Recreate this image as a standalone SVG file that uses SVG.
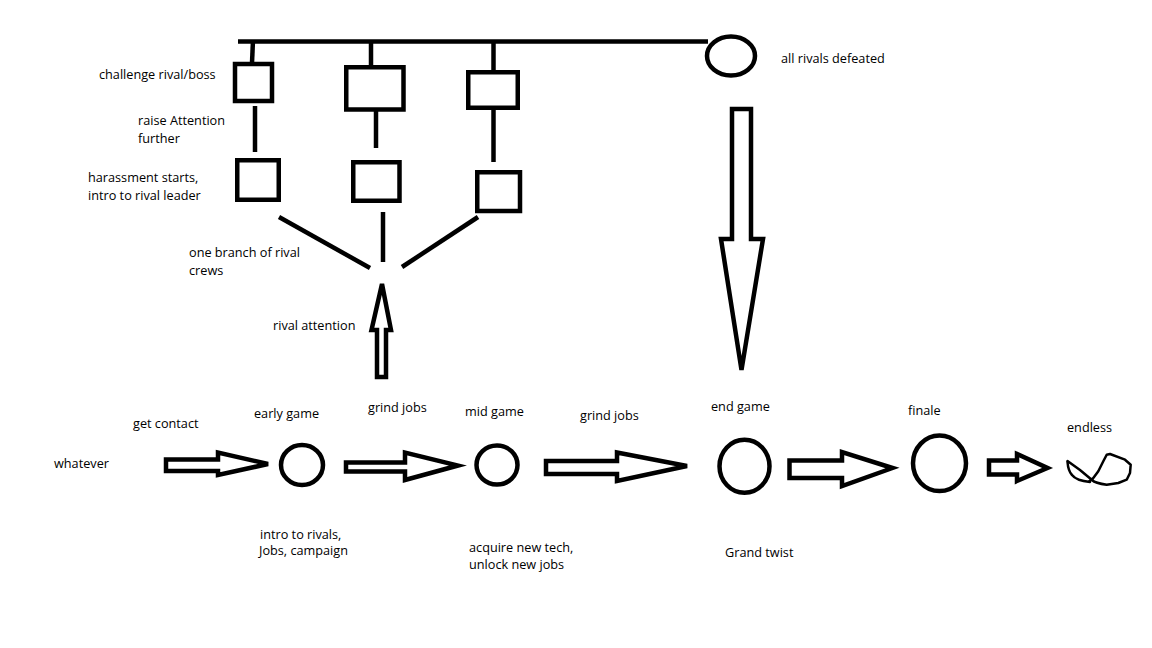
<svg xmlns="http://www.w3.org/2000/svg" width="1152" height="648" viewBox="0 0 1152 648">
<style>
.s{fill:#fff;stroke:#000;stroke-width:4.5;stroke-linejoin:miter}
.l{fill:none;stroke:#000;stroke-width:4.5}
.thin{fill:none;stroke:#000;stroke-width:2.5;stroke-linejoin:round;stroke-linecap:round}
text{font-family:"Open Sans","Noto Sans","Liberation Sans",sans-serif;font-size:12.7px;fill:#000}
</style>
<rect width="1152" height="648" fill="#fff"/>
<g id="connectors">
<line class="l" x1="238" y1="41.5" x2="708" y2="41.5"/>
<line class="l" x1="253" y1="40" x2="252" y2="63"/>
<line class="l" x1="255" y1="106" x2="255" y2="152"/>
<line class="l" x1="371" y1="41" x2="371" y2="66"/>
<line class="l" x1="376" y1="111" x2="376" y2="148"/>
<line class="l" x1="493.5" y1="41" x2="493.5" y2="71"/>
<line class="l" x1="493.5" y1="110" x2="493.5" y2="162"/>
<line class="l" x1="279" y1="217" x2="370" y2="268"/>
<line class="l" x1="383" y1="212" x2="383" y2="262"/>
<line class="l" x1="478" y1="217" x2="402" y2="267"/>
<polygon class="s" points="382,284 391,330 386,330 386,377 377,377 377,330 371.5,330"/>
<polygon class="s" points="732,109 751,109 751,239 763,239 741.5,370 721,239 732,239"/>
<polygon class="s" points="166,459.5 218,459.5 218,452.5 268,464 218,475 218,471 166,471"/>
<polygon class="s" points="346,462.5 405,462.5 405,452.5 458,465.5 405,480 405,471.5 346,471.5"/>
<polygon class="s" points="546,461 617,461 617,452.5 687,466 617,481 617,474 546,474"/>
<polygon class="s" points="789.5,460.5 842,460.5 842,452 892.5,468 842,486 842,478 789.5,478"/>
<polygon class="s" points="989,460.5 1017,460.5 1017,454 1047.5,468 1017,481 1017,474.5 989,474.5"/>
</g>
<g id="node-challenge-1"><rect class="s" x="235" y="64" width="37" height="37"/></g>
<g id="node-harass-1"><rect class="s" x="237.25" y="160.25" width="41.5" height="39.5"/></g>
<g id="node-challenge-2"><rect class="s" x="346.25" y="67.25" width="57.25" height="42.25"/></g>
<g id="node-harass-2"><rect class="s" x="353.25" y="162.25" width="46.25" height="38.5"/></g>
<g id="node-challenge-3"><rect class="s" x="468.25" y="72.25" width="49.5" height="35.5"/></g>
<g id="node-harass-3"><rect class="s" x="477.25" y="172.25" width="42.75" height="38.75"/></g>
<g id="node-defeated"><ellipse class="s" cx="731" cy="56" rx="24" ry="19.5"/></g>
<g id="node-early"><ellipse class="s" cx="302" cy="465" rx="21" ry="20"/></g>
<g id="node-mid"><ellipse class="s" cx="497" cy="465" rx="20.5" ry="19.5"/></g>
<g id="node-end"><ellipse class="s" cx="744.5" cy="466.3" rx="25" ry="26.5"/></g>
<g id="node-finale"><ellipse class="s" cx="939.5" cy="463.3" rx="26.5" ry="27.8"/></g>
<g id="node-endless">
<path class="thin" d="M1067.5,461 L1080,470 L1092,480"/>
<path class="thin" d="M1067.5,462 C1068,468 1070,473 1072,475 C1075,479 1080,481 1090,482"/>
<path class="thin" d="M1092,480 C1094,482 1097,483.5 1106.7,484.7 L1118.3,483 L1126.7,479.7 L1130,473 L1130.7,464.7 L1125,459.7 L1110,454 L1106.7,454.7 L1103.3,461.3 L1098.3,471.3 L1093.3,478 L1089.3,481.3"/>
</g>
<g id="labels">
<text x="99" y="79">challenge rival/boss</text>
<text x="138" y="125">raise Attention</text>
<text x="138" y="143">further</text>
<text x="88" y="182">harassment starts,</text>
<text x="88" y="200">intro to rival leader</text>
<text x="189" y="257">one branch of rival</text>
<text x="189" y="275">crews</text>
<text x="273" y="330">rival attention</text>
<text x="781" y="63">all rivals defeated</text>
<text x="54" y="468">whatever</text>
<text x="133" y="428">get contact</text>
<text x="254" y="418">early game</text>
<text x="368" y="412">grind jobs</text>
<text x="465" y="416">mid game</text>
<text x="580" y="420">grind jobs</text>
<text x="711" y="411">end game</text>
<text x="908" y="415">finale</text>
<text x="1067" y="432">endless</text>
<text x="260" y="539">intro to rivals,</text>
<text x="259" y="555">Jobs, campaign</text>
<text x="469" y="552">acquire new tech,</text>
<text x="469" y="569">unlock new jobs</text>
<text x="725" y="557">Grand twist</text>
</g>
</svg>
